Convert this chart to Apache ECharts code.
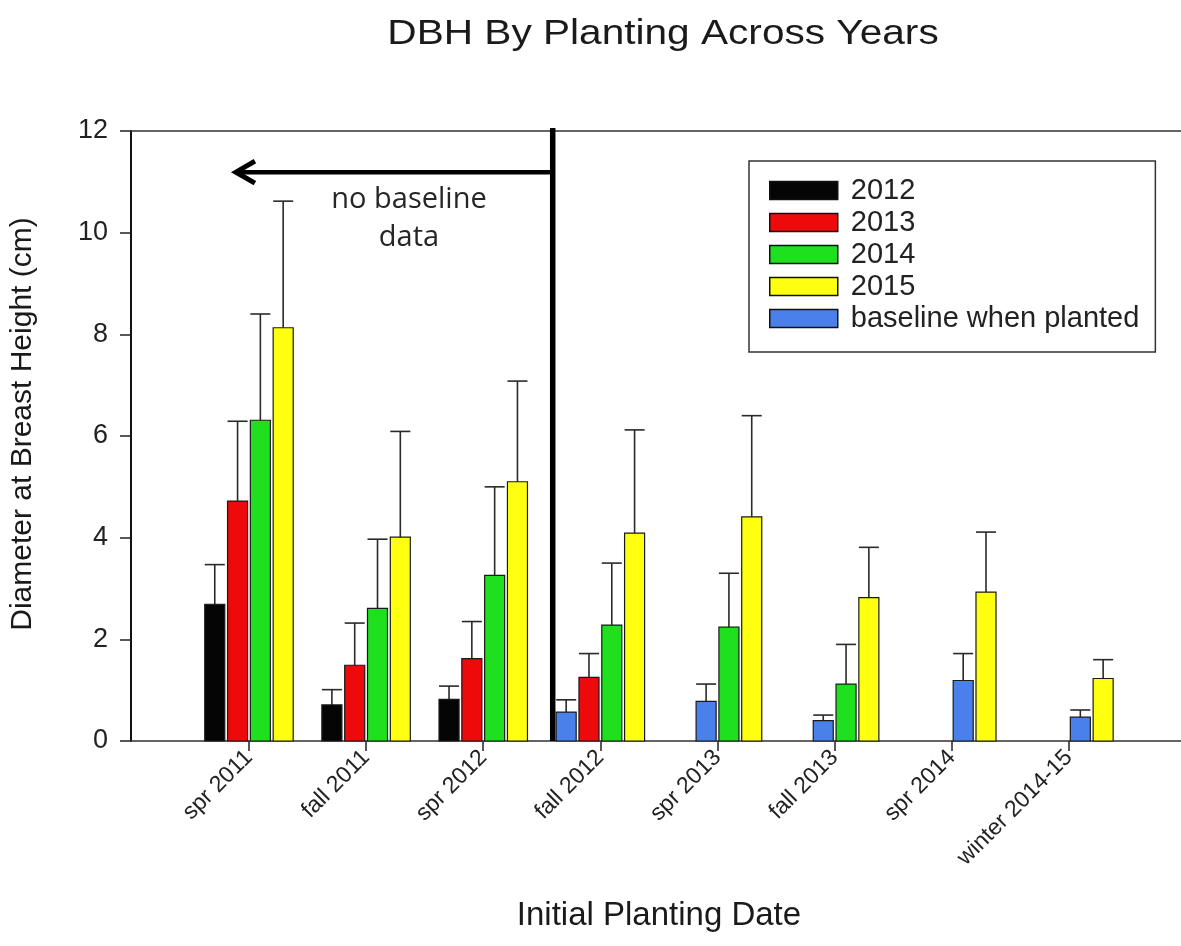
<!DOCTYPE html>
<html>
<head>
<meta charset="utf-8">
<title>DBH By Planting Across Years</title>
<script src="https://cdn.jsdelivr.net/npm/echarts@6/dist/echarts.min.js"></script>
<style>
  html, body { margin: 0; padding: 0; background: #fff; }
  #chart { width: 1181px; height: 946px; }
</style>
</head>
<body>
<div id="chart"></div>
<script>
// Planting cohorts on the x axis
const categories = ['spr 2011', 'fall 2011', 'spr 2012', 'fall 2012', 'spr 2013', 'fall 2013', 'spr 2014', 'winter 2014-15'];

// Mean DBH (cm) per measurement year, and the upper error (SD) above each mean
const dbh2012 = [2.69, 0.71, 0.82, null, null, null, null, null];
const err2012 = [0.78, 0.30, 0.26, null, null, null, null, null];
const dbh2013 = [4.72, 1.49, 1.62, 1.25, null, null, null, null];
const err2013 = [1.57, 0.83, 0.73, 0.47, null, null, null, null];
const dbh2014 = [6.31, 2.61, 3.26, 2.28, 2.24, 1.12, null, null];
const err2014 = [2.09, 1.36, 1.74, 1.22, 1.06, 0.78, null, null];
const dbh2015 = [8.13, 4.01, 5.10, 4.09, 4.41, 2.82, 2.93, 1.23];
const err2015 = [2.49, 2.08, 1.98, 2.03, 1.99, 0.99, 1.18, 0.37];
const baseline = [null, null, null, 0.57, 0.78, 0.40, 1.19, 0.47];
const baselineErr = [null, null, null, 0.24, 0.34, 0.11, 0.53, 0.14];

const yearNames = ['2012', '2013', '2014', '2015'];
const baselineName = 'baseline when planted';
const yTicks = { min: 0, max: 12, step: 2 };

const yearMeans = [dbh2012, dbh2013, dbh2014, dbh2015];
const yearErrs = [err2012, err2013, err2014, err2015];
const colors = ['#050505', '#ee0a0a', '#1fe01f', '#ffff10'];
const baselineColor = '#4a80ea';

// Bar layout inside one category band
const SLOT = 0.1947;   // share of the band per bar slot (4 slots per group)
const BAR = 0.171;     // share of the band filled by one bar

// Divider / arrow annotation, in category and value units
const DIVIDER_AT = 2.593;
const ARROW_TIP = -0.12;
const ARROW_Y = 11.19;
const NOTE_AT = [1.366, 10.27];

function itemsFor(means, errs, slotOf) {
  const out = [];
  means.forEach((v, i) => {
    if (v == null) return;
    out.push([i, v, v + errs[i], slotOf(i)]);
  });
  return out;
}

// the baseline bar sits right before the first measured year of its group
function baselineSlot(i) {
  for (let k = 0; k < yearMeans.length; k++) {
    if (yearMeans[k][i] != null) return k - 1;
  }
  return 0;
}

function renderBar(params, api) {
  const cat = api.value(0);
  const base = api.coord([cat, 0]);
  const top = api.coord([cat, api.value(1)]);
  const cap = api.coord([cat, api.value(2)]);
  const band = api.size([1, 0])[0];
  const slot = api.value(3);
  const w = band * BAR;
  const left = base[0] + (slot - 2) * band * SLOT + (band * SLOT - w) / 2;
  const cx = left + w / 2;
  const errStyle = { stroke: '#2a2a2a', lineWidth: 1.6 };
  return {
    type: 'group',
    children: [
      { type: 'line', shape: { x1: cx, y1: top[1], x2: cx, y2: cap[1] }, style: errStyle },
      { type: 'line', shape: { x1: cx - w / 2, y1: cap[1], x2: cx + w / 2, y2: cap[1] }, style: errStyle },
      {
        type: 'rect',
        shape: { x: left, y: top[1], width: w, height: base[1] - top[1] },
        style: { fill: api.visual('color'), stroke: '#1a1a1a', lineWidth: 1.2 }
      }
    ]
  };
}

function renderNote(params, api) {
  const band = api.size([1, 0])[0];
  const x0 = api.coord([0, 0])[0];
  const yBottom = api.coord([0, yTicks.min])[1];
  const yTop = api.coord([0, yTicks.max])[1];
  const divX = x0 + DIVIDER_AT * band;
  const tipX = x0 + ARROW_TIP * band;
  const ay = api.coord([0, ARROW_Y])[1];
  const noteX = x0 + NOTE_AT[0] * band;
  const noteY = api.coord([0, NOTE_AT[1]])[1];
  return {
    type: 'group',
    children: [
      { type: 'line', shape: { x1: divX, y1: yBottom, x2: divX, y2: yTop - 3 }, style: { stroke: '#000', lineWidth: 5.5 } },
      { type: 'line', shape: { x1: divX, y1: ay, x2: tipX + 3, y2: ay }, style: { stroke: '#000', lineWidth: 4.5 } },
      {
        type: 'polyline',
        shape: { points: [[tipX + 20, ay - 11], [tipX + 1, ay], [tipX + 20, ay + 11]] },
        style: { stroke: '#000', fill: null, lineWidth: 5, lineJoin: 'miter' }
      },
      {
        type: 'text', x: noteX, y: noteY,
        style: {
          text: 'no baseline\ndata', fill: '#262626', fontSize: 29, fontFamily: '"Open Sans"',
          align: 'center', verticalAlign: 'middle', textAlign: 'center', textVerticalAlign: 'middle', lineHeight: 38
        }
      }
    ]
  };
}

const series = yearNames.map((name, k) => ({
  name: name,
  type: 'custom',
  xAxisIndex: 1, yAxisIndex: 1,
  itemStyle: { color: colors[k] },
  encode: { x: 0, y: [1, 2] },
  clip: false,
  renderItem: renderBar,
  data: itemsFor(yearMeans[k], yearErrs[k], () => k)
}));
series.push({
  name: baselineName,
  type: 'custom',
  xAxisIndex: 1, yAxisIndex: 1,
  itemStyle: { color: baselineColor },
  encode: { x: 0, y: [1, 2] },
  clip: false,
  renderItem: renderBar,
  data: itemsFor(baseline, baselineErr, baselineSlot)
});
series.push({
  name: 'note',
  type: 'custom',
  xAxisIndex: 1, yAxisIndex: 1,
  clip: false,
  silent: true,
  renderItem: renderNote,
  data: [[0, 0]]
});

const font = '"Liberation Sans", Arial, sans-serif';
const chart = echarts.init(document.getElementById('chart'), null, { renderer: 'canvas' });
chart.setOption({
  animation: false,
  backgroundColor: '#fff',
  graphic: [{
    type: 'text', x: 663, y: 34, scaleX: 1.16,
    style: {
      text: 'DBH By Planting Across Years', fontSize: 35, fontFamily: font, fill: '#1a1a1a',
      align: 'center', verticalAlign: 'middle', textAlign: 'center', textVerticalAlign: 'middle'
    }
  }],
  grid: [
    { left: 131, right: 0, top: 131, bottom: 205 },
    { left: 190.4, right: 53.5, top: 131, bottom: 205 }
  ],
  xAxis: [
    { gridIndex: 0, type: 'value', min: 0, max: 1, position: 'bottom',
      axisLine: { show: true, lineStyle: { color: '#333', width: 1.6 } },
      axisTick: { show: false }, axisLabel: { show: false }, splitLine: { show: false } },
    { gridIndex: 1, type: 'category', data: categories, position: 'bottom',
      axisLine: { show: false },
      axisTick: { show: true, alignWithLabel: true, length: 10, lineStyle: { color: '#222', width: 1.5 } },
      axisLabel: { rotate: 45, fontSize: 23, fontFamily: font, color: '#222', margin: 13 },
      name: 'Initial Planting Date', nameLocation: 'middle', nameGap: 158,
      nameTextStyle: { fontSize: 33, fontFamily: font, color: '#1a1a1a' } },
    { gridIndex: 0, type: 'value', min: 0, max: 1, position: 'top',
      axisLine: { show: true, lineStyle: { color: '#333', width: 1.6 } },
      axisTick: { show: false }, axisLabel: { show: false }, splitLine: { show: false } }
  ],
  yAxis: [
    { gridIndex: 0, type: 'value', min: yTicks.min, max: yTicks.max, interval: yTicks.step,
      axisLine: { show: true, lineStyle: { color: '#111', width: 2 } },
      axisTick: { show: true, length: 11, lineStyle: { color: '#222', width: 1.5 } },
      axisLabel: { fontSize: 27, fontFamily: font, color: '#222', margin: 23 },
      splitLine: { show: false },
      name: 'Diameter at Breast Height (cm)', nameLocation: 'middle', nameGap: 93,
      nameTextStyle: { fontSize: 30, fontFamily: font, color: '#1a1a1a', padding: [0, 0, 0, 24] } },
    { gridIndex: 1, type: 'value', min: yTicks.min, max: yTicks.max, show: false }
  ],
  legend: {
    data: yearNames.concat([baselineName]),
    orient: 'vertical',
    left: 749, top: 161,
    padding: [15, 16, 19, 20],
    borderColor: '#333', borderWidth: 1.5,
    backgroundColor: '#fff',
    icon: 'rect',
    itemWidth: 68, itemHeight: 18, itemGap: 3,
    itemStyle: { borderColor: '#111', borderWidth: 1.5 },
    textStyle: { fontSize: 29, fontFamily: font, color: '#222', padding: [0, 0, 0, 8] },
    selectedMode: false
  },
  series: series
});
</script>
</body>
</html>
